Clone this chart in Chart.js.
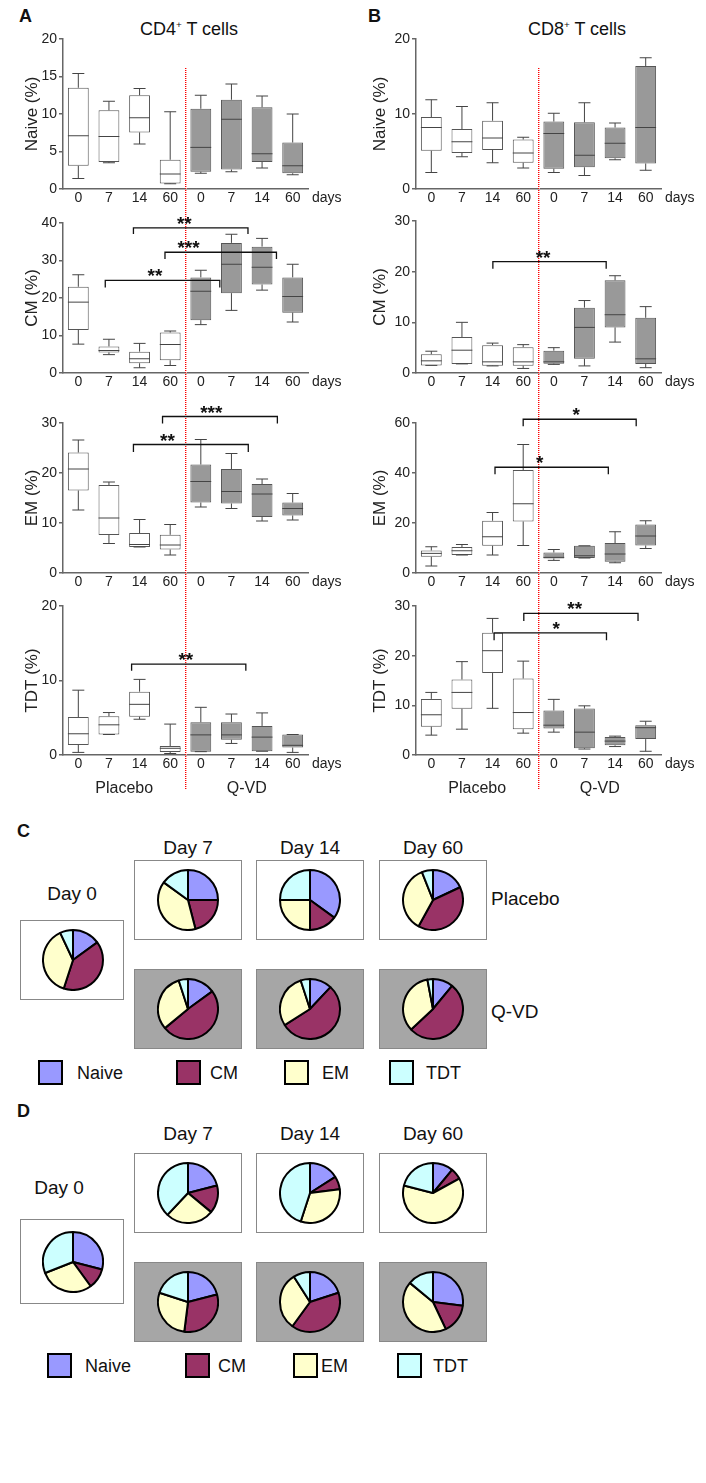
<!DOCTYPE html>
<html>
<head>
<meta charset="utf-8">
<script src="https://cdn.jsdelivr.net/npm/chart.js@4"></script>
<style>
  body { margin: 0; background: #fff; font-family: "Liberation Sans", Arial, sans-serif; color: #111; }
  #fig { position: relative; width: 706px; height: 1483px; overflow: hidden; }
  #fig canvas { position: absolute; }
  sup { font-size: 55%; vertical-align: 0.7em; }
</style>
</head>
<body>
<div id="fig"></div>
<script>
// ---- data ----
var days = ['0', '7', '14', '60', '0', '7', '14', '60'];
// each group: [min, q1, median, q3, max]; first four Placebo, last four Q-VD
var cd4Naive = [[1.4,3.1,7.1,13.5,15.4],[3.5,3.6,7.0,10.5,11.7],[6.0,7.55,9.5,12.5,13.4],[0.7,0.75,2.0,3.9,10.3],
                [2.1,2.3,5.55,10.7,12.5],[2.3,2.6,9.3,11.9,14.0],[2.8,3.6,4.7,10.9,12.4],[1.9,2.1,3.1,6.2,10.0]];
var cd4Cm    = [[7.7,11.5,18.9,23.0,26.2],[4.9,5.5,6.0,7.1,9.0],[1.4,2.6,3.8,5.7,7.9],[2.0,3.4,7.6,10.8,11.2],
                [12.9,14.1,21.8,25.5,27.4],[16.7,21.3,29.0,34.7,37.0],[22.1,23.6,28.2,33.7,35.9],[13.6,16.1,20.4,25.5,29.0]];
var cd4Em    = [[12.6,16.5,20.8,24.1,26.6],[5.9,7.6,11.0,17.6,18.2],[5.2,5.2,5.7,8.0,10.7],[3.6,4.7,5.6,7.65,9.7],
                [13.2,14.1,18.3,21.7,26.7],[12.9,13.9,16.3,20.8,23.9],[10.4,11.2,15.8,17.8,18.8],[10.6,11.5,12.9,14.1,15.9]];
var cd4Tdt   = [[0.35,1.35,2.85,5.1,8.7],[2.75,2.75,4.05,5.2,5.7],[4.8,5.15,6.8,8.5,10.15],[0.2,0.4,0.9,1.2,4.15],
                [0.45,0.45,2.7,4.4,6.4],[1.55,2.05,2.7,4.4,5.5],[0.5,0.5,2.4,3.9,5.65],[0.35,1.0,1.3,2.75,2.75]];
var cd8Naive = [[2.2,5.1,8.2,9.6,11.9],[4.3,4.8,6.3,8.0,11.0],[3.5,5.2,6.8,9.1,11.5],[2.8,3.5,4.8,6.6,6.9],
                [2.2,2.7,7.4,9.0,10.1],[1.8,2.9,4.5,8.9,11.5],[3.9,4.1,6.1,8.2,8.8],[2.5,3.4,8.2,16.4,17.5]];
var cd8Cm    = [[1.5,1.5,2.4,3.7,4.3],[1.8,1.8,4.5,7.1,10.0],[1.4,1.45,2.2,5.5,5.9],[0.9,1.45,2.2,5.1,5.6],
                [1.7,1.85,2.2,4.4,5.0],[1.4,2.8,9.0,12.9,14.3],[6.1,9.0,11.5,18.3,19.2],[1.05,1.8,2.8,10.9,13.1]];
var cd8Em    = [[2.8,6.5,7.85,9.0,10.5],[7.2,7.2,8.9,10.4,11.4],[7.2,10.9,14.5,20.9,24.2],[11.0,20.6,27.7,41.2,51.4],
                [5.05,5.85,6.25,8.2,9.4],[6.0,6.0,6.9,10.9,10.9],[4.1,4.5,7.6,12.0,16.5],[9.8,11.0,14.8,19.4,20.9]];
var cd8Tdt   = [[4.0,5.7,8.1,11.3,12.6],[5.2,9.3,12.6,15.2,18.8],[9.4,16.5,21.0,24.6,27.5],[4.4,5.2,8.55,15.4,18.9],
                [4.6,5.35,6.0,8.95,11.2],[1.2,1.35,4.6,9.35,9.9],[1.7,1.95,2.8,3.6,3.8],[0.75,3.2,5.5,6.0,6.8]];

// significance brackets: [from, to (category index), top value, end value, label, label position]
var cd4CmSig  = [[1.8,5.54,38.7,37.1,'**',3.46],[2.83,6.47,32.2,30.4,'***',3.6],[0.88,4.62,24.7,22.8,'**',2.5]];
var cd4EmSig  = [[2.75,6.5,31.3,29.9,'***',4.34],[1.8,5.55,25.7,24.2,'**',2.91]];
var cd4TdtSig = [[1.74,5.47,12.2,11.3,'**',3.51]];
var cd8CmSig  = [[2.01,5.71,22.0,20.6,'**',3.65]];
var cd8EmSig  = [[3.0,6.69,61.5,58.7,'*',4.73],[2.08,5.78,42.3,39.5,'*',3.54]];
var cd8TdtSig = [[3.02,6.75,28.5,27.0,'**',4.68],[2.05,5.72,24.6,23.1,'*',4.08]];

// pie fractions (%): Naive, CM, EM, TDT
var subsets = ['Naive', 'CM', 'EM', 'TDT'];
var subsetColors = ['#9999ff', '#993366', '#ffffcc', '#ccffff'];
var cd4Day0 = [15, 40, 38, 7];
var cd4Placebo = [[25, 21, 39, 15], [35, 15, 25, 25], [18, 40, 36, 6]];
var cd4Qvd = [[15, 49, 31, 5], [12, 54, 29, 5], [11, 52, 34, 3]];
var cd8Day0 = [29, 11, 29, 31];
var cd8Placebo = [[21, 15, 26, 38], [16, 7, 32, 45], [11, 6, 62, 21]];
var cd8Qvd = [[21, 31, 28, 20], [20, 40, 31, 9], [27, 16, 43, 14]];
var pieDays = ['Day 7', 'Day 14', 'Day 60'];

// ---- helpers ----
var FONT = '"Liberation Sans", Arial, sans-serif';
Chart.defaults.font.family = FONT;
var fig = document.getElementById('fig');

function addCanvas(x, y, w, h) {
  var c = document.createElement('canvas');
  c.width = w; c.height = h;
  c.style.left = x + 'px'; c.style.top = y + 'px';
  fig.appendChild(c);
  return c.getContext('2d');
}

function text(str, x, y, size, center, bold) {
  var d = document.createElement('div');
  d.innerHTML = str;
  d.style.cssText = 'position:absolute;left:' + x + 'px;top:' + y + 'px;font-size:' + size +
    'px;line-height:1;white-space:nowrap;transform:translate(' + (center ? '-50%' : '0') + ',-50%);' +
    (bold ? 'font-weight:bold;' : '');
  fig.appendChild(d);
}

function rect(x, y, w, h, fill, border) {
  var d = document.createElement('div');
  d.style.cssText = 'position:absolute;box-sizing:border-box;left:' + x + 'px;top:' + y + 'px;width:' + w +
    'px;height:' + h + 'px;background:' + fill + ';border:' + border + ';';
  fig.appendChild(d);
}

// whiskers, medians, brackets, separator
function boxPlugin(stats, sig, extra) {
  return {
    id: 'boxes',
    beforeDatasetsDraw: function (chart) {
      var ctx = chart.ctx, xs = chart.scales.x;
      var rx = Math.floor(xs.getPixelForValue(3.5));
      ctx.save();
      // fine dotted red separator
      for (var yy = extra.redFrom; yy < extra.redTo; yy += 2) {
        ctx.fillStyle = '#ff0000';
        ctx.fillRect(rx, yy, 1, 1);
        ctx.fillStyle = '#ff9c9c';
        ctx.fillRect(rx + 1, yy, 1, 1);
      }
      ctx.restore();
    },
    afterDatasetsDraw: function (chart) {
      var ctx = chart.ctx, xs = chart.scales.x, ys = chart.scales.y;
      var bars = chart.getDatasetMeta(0).data;
      ctx.save();
      ctx.strokeStyle = '#444';
      ctx.lineWidth = 1;
      stats.forEach(function (s, i) {
        var bx = bars[i].x, hw = bars[i].width / 2;
        var yMin = ys.getPixelForValue(s[0]), yQ1 = ys.getPixelForValue(s[1]);
        var yMed = ys.getPixelForValue(s[2]), yQ3 = ys.getPixelForValue(s[3]);
        var yMax = ys.getPixelForValue(s[4]);
        ctx.beginPath();
        ctx.moveTo(bx - hw, yMed); ctx.lineTo(bx + hw, yMed);
        ctx.moveTo(bx, yQ3); ctx.lineTo(bx, yMax);
        ctx.moveTo(bx - 6, yMax); ctx.lineTo(bx + 6, yMax);
        ctx.moveTo(bx, yQ1); ctx.lineTo(bx, yMin);
        ctx.moveTo(bx - 6, yMin); ctx.lineTo(bx + 6, yMin);
        ctx.stroke();
      });
      ctx.strokeStyle = '#111';
      ctx.lineWidth = 1.3;
      ctx.fillStyle = '#111';
      ctx.font = 'bold 19px ' + FONT;
      ctx.textAlign = 'center';
      ctx.textBaseline = 'alphabetic';
      sig.forEach(function (b) {
        var x1 = xs.getPixelForValue(b[0]), x2 = xs.getPixelForValue(b[1]);
        var yt = ys.getPixelForValue(b[2]), ye = ys.getPixelForValue(b[3]);
        ctx.beginPath();
        ctx.moveTo(x1, ye); ctx.lineTo(x1, yt); ctx.lineTo(x2, yt); ctx.lineTo(x2, ye);
        ctx.stroke();
        ctx.fillText(b[4], xs.getPixelForValue(b[5]), yt + 2);
      });
      var a = chart.chartArea;
      ctx.fillStyle = '#222';
      ctx.font = '14px ' + FONT;
      ctx.textAlign = 'left';
      ctx.textBaseline = 'middle';
      ctx.fillText('days', a.right + 4, a.bottom + 1 + 8.4);
      if (extra.groups) {
        ctx.font = '16px ' + FONT;
        ctx.textAlign = 'center';
        ctx.fillText('Placebo', xs.getPixelForValue(1.5), a.bottom + 34);
        ctx.fillText('Q-VD', xs.getPixelForValue(5.5), a.bottom + 34);
      }
      ctx.restore();
    }
  };
}

// column geometry: left edge, y-title pad, axis x, axis right
var colA = { left: 0, padL: 22, axisX: 63, axisR: 308 };
var colB = { left: 353, padL: 17, axisX: 416, axisR: 661 };

function boxPanel(col, top, h, chartTop, chartBottom, stats, yMax, yStep, yTitle, sig, extra) {
  var ctx = addCanvas(col.left, top, 353, h);
  new Chart(ctx, {
    type: 'bar',
    data: {
      labels: days,
      datasets: [{
        data: stats.map(function (s) { return [s[1], s[3]]; }),
        backgroundColor: days.map(function (d, i) { return i < 4 ? '#ffffff' : '#999999'; }),
        borderColor: '#555',
        borderWidth: 1,
        borderSkipped: false,
        categoryPercentage: 1,
        barPercentage: 0.68
      }]
    },
    options: {
      responsive: false,
      animation: false,
      layout: { padding: { left: col.padL, top: chartTop, right: 353 - (col.axisR - col.left), bottom: 0 } },
      plugins: { legend: { display: false }, tooltip: { enabled: false } },
      scales: {
        x: {
          grid: { display: false, drawTicks: false },
          border: { color: '#666', width: 1.5 },
          ticks: { color: '#222', font: { size: 14 }, padding: 1, maxRotation: 0, autoSkip: false },
          afterFit: function (s) { s.height = h - chartBottom; }
        },
        y: {
          min: 0, max: yMax,
          ticks: { stepSize: yStep, color: '#222', font: { size: 14 }, padding: 2 },
          grid: { drawOnChartArea: false, color: '#666', tickLength: 4, lineWidth: 1.5 },
          border: { color: '#666', width: 1.5 },
          title: { display: true, text: yTitle, color: '#222', font: { size: 17 }, padding: 0 },
          afterFit: function (s) { s.width = col.axisX - col.left - col.padL; }
        }
      }
    },
    plugins: [boxPlugin(stats, sig, extra)]
  });
}

// ---- panels A and B ----
text('A', 19, 16, 18, false, true);
text('B', 368, 16, 18, false, true);
text('CD4<sup>+</sup> T cells', 189, 29, 18, true);
text('CD8<sup>+</sup> T cells', 577, 29, 18, true);

boxPanel(colA, 0, 206, 39, 189, cd4Naive, 20, 5, 'Naive (%)', [], { redFrom: 68, redTo: 206 });
boxPanel(colA, 206, 194, 17, 167, cd4Cm, 40, 10, 'CM (%)', cd4CmSig, { redFrom: 0, redTo: 194 });
boxPanel(colA, 400, 190, 23, 173, cd4Em, 30, 10, 'EM (%)', cd4EmSig, { redFrom: 0, redTo: 190 });
boxPanel(colA, 590, 210, 16, 165, cd4Tdt, 20, 10, 'TDT (%)', cd4TdtSig, { redFrom: 0, redTo: 199, groups: true });

boxPanel(colB, 0, 206, 39, 189, cd8Naive, 20, 10, 'Naive (%)', [], { redFrom: 68, redTo: 206 });
boxPanel(colB, 206, 194, 15, 167, cd8Cm, 30, 10, 'CM (%)', cd8CmSig, { redFrom: 0, redTo: 194 });
boxPanel(colB, 400, 190, 23, 173, cd8Em, 60, 20, 'EM (%)', cd8EmSig, { redFrom: 0, redTo: 190 });
boxPanel(colB, 590, 210, 16, 165, cd8Tdt, 30, 10, 'TDT (%)', cd8TdtSig, { redFrom: 0, redTo: 199, groups: true });

// ---- pies C and D ----
function pie(values, cx, cy) {
  var ctx = addCanvas(cx - 31, cy - 31, 62, 62);
  new Chart(ctx, {
    type: 'pie',
    data: {
      labels: subsets,
      datasets: [{ data: values, backgroundColor: subsetColors, borderColor: '#000', borderWidth: 2 }]
    },
    options: {
      responsive: false,
      animation: false,
      plugins: { legend: { display: false }, tooltip: { enabled: false } }
    }
  });
}

var pieCols = [134, 256, 379];

function pieSection(letter, yLetter, day0, placebo, qvd, g) {
  text(letter, 17, yLetter, 18, false, true);
  text('Day 0', g.day0TitleX, g.day0TitleY, 19, true);
  rect(20, g.day0Top, 104, g.day0H, '#fff', '1px solid #888');
  pie(day0, 73, g.day0Top + g.day0H / 2);
  pieCols.forEach(function (x, i) {
    text(pieDays[i], x + 54, g.titleY, 19, true);
    rect(x, g.topRow, 108, 80, '#fff', '1px solid #888');
    pie(placebo[i], x + 54, g.topRow + 40);
    rect(x, g.botRow, 108, 80, '#a6a6a6', '1px solid #888');
    pie(qvd[i], x + 54, g.botRow + 40);
  });
  if (g.rowLabels) {
    text('Placebo', 491, g.topRow + 38, 19, false);
    text('Q-VD', 491, g.botRow + 42, 19, false);
  }
  subsets.forEach(function (name, i) {
    rect(g.legX[i], g.legY, 25, 25, subsetColors[i], '2px solid #000');
    text(name, g.legTX[i], g.legY + 13, 18, false);
  });
}

pieSection('C', 831, cd4Day0, cd4Placebo, cd4Qvd, {
  day0TitleX: 72, day0TitleY: 893, day0Top: 920, day0H: 80, titleY: 847, topRow: 860, botRow: 969,
  rowLabels: true, legY: 1060, legX: [38, 176, 284, 389], legTX: [77, 210, 322, 426]
});
pieSection('D', 1111, cd8Day0, cd8Placebo, cd8Qvd, {
  day0TitleX: 59, day0TitleY: 1187, day0Top: 1219, day0H: 85, titleY: 1133, topRow: 1153, botRow: 1262,
  rowLabels: false, legY: 1353, legX: [47, 185, 293, 397], legTX: [85, 218, 321, 433]
});
</script>
</body>
</html>
